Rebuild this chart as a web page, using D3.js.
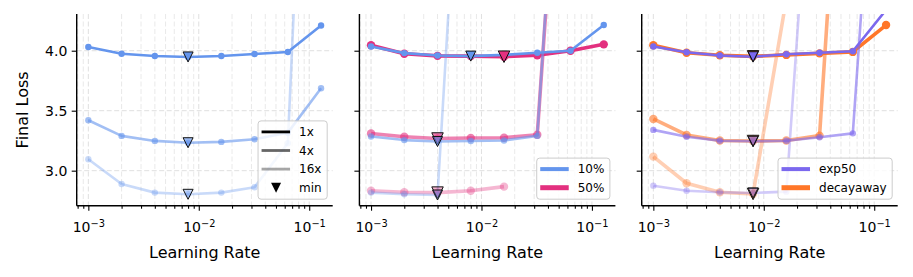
<!DOCTYPE html>
<html>
<head>
<meta charset="utf-8">
<script src="https://cdn.jsdelivr.net/npm/d3@7"></script>
<style>
  body { margin: 0; background: #fff; }
  svg { display: block; }
  svg text { font-family: "DejaVu Sans", sans-serif; }
</style>
</head>
<body>
<svg id="chart" width="913" height="277"></svg>
<script>
// ---- data ----
const learningRates = [0.001, 0.002, 0.004, 0.008, 0.016, 0.032, 0.064, 0.128];
const durations = ["1x", "4x", "16x"];
const xTickExponents = [-3, -2, -1];
const yTicks = [3.0, 3.5, 4.0];

// panel 1 (single schedule, three run lengths)
const base1x  = [4.031, 3.975, 3.956, 3.948, 3.956, 3.972, 3.989, 4.210];
const base4x  = [3.420, 3.290, 3.248, 3.233, 3.240, 3.262, 3.317, 3.687];
const base16x = [3.095, 2.889, 2.817, 2.803, 2.817, 2.862, 3.228, 9.400];

// panel 2 (10% vs 50%)
const pct10_1x  = [4.035, 3.980, 3.960, 3.955, 3.965, 3.983, 4.000, 4.214];
const pct10_4x  = [3.285, 3.255, 3.243, 3.247, 3.252, 3.290, 7.500];
const pct10_16x = [2.817, 2.803, 2.797, 7.440];
const pct50_1x  = [4.045, 3.975, 3.957, 3.955, 3.950, 3.962, 4.000, 4.053];
const pct50_4x  = [3.310, 3.283, 3.268, 3.272, 3.275, 3.300, 7.300];
const pct50_16x = [2.833, 2.820, 2.817, 2.833, 2.867];

// panel 3 (exp50 vs decayaway)
const exp50_1x  = [4.035, 3.987, 3.960, 3.950, 3.970, 3.983, 3.995, 4.340];
const exp50_4x  = [3.340, 3.283, 3.250, 3.245, 3.250, 3.278, 3.311, 7.300];
const exp50_16x = [2.875, 2.833, 2.820, 2.814, 2.825, 6.800];
const decay_1x  = [4.045, 3.983, 3.962, 3.953, 3.965, 3.978, 3.990, 4.214];
const decay_4x  = [3.431, 3.298, 3.252, 3.247, 3.252, 3.292, 7.550];
const decay_16x = [3.117, 2.895, 2.820, 2.806, 4.430];

// ---- styling ----
const blue = "#6495ed", pink = "#e3307f", purple = "#7b68ee", orange = "#ff7628";
const alphas = [1, 0.6, 0.35];
const thin = { lw: 2.6, r: 3.2, tri: 10, legendLw: 4 };
const thick = { lw: 3.6, r: 4.2, tri: 11.5, legendLw: 5 };

const panels = [
  { legend: "durations",
    series: [{ label: null, color: blue, runs: [base1x, base4x, base16x], style: thin }] },
  { legend: "series",
    series: [{ label: "10%", color: blue, runs: [pct10_1x, pct10_4x, pct10_16x], style: thin },
             { label: "50%", color: pink, runs: [pct50_1x, pct50_4x, pct50_16x], style: thick }] },
  { legend: "series",
    series: [{ label: "exp50", color: purple, runs: [exp50_1x, exp50_4x, exp50_16x], style: thin },
             { label: "decayaway", color: orange, runs: [decay_1x, decay_4x, decay_16x], style: thick }] }
];

// ---- layout ----
const lefts = [76.7, 359.4, 641.7];
const plotW = 256, plotTop = 14, plotBottom = 205.7, plotH = plotBottom - plotTop;

const logLo = Math.log10(learningRates[0]), logHi = Math.log10(learningRates[learningRates.length - 1]);
const pad = (logHi - logLo) * 0.05;
const x = d3.scaleLog().domain([10 ** (logLo - pad), 10 ** (logHi + pad)]).range([0, plotW]);
const y = d3.scaleLinear().domain([2.708, 4.306]).range([plotH, 0]);

const majorX = xTickExponents.map(e => 10 ** e);
const minorX = x.ticks().filter(v => !majorX.some(m => Math.abs(m - v) / m < 1e-6));

const svg = d3.select("#chart");
svg.append("rect").attr("width", 913).attr("height", 277).attr("fill", "#fff");

const triangle = s => `M${-s / 2},${-s / 2}L${s / 2},${-s / 2}L0,${s / 2}Z`;

panels.forEach((panel, pi) => {
  const g = svg.append("g").attr("transform", `translate(${lefts[pi]},${plotTop})`);

  g.append("clipPath").attr("id", `clip${pi}`)
    .append("rect").attr("width", plotW).attr("height", plotH);

  // grid
  const grid = g.append("g").attr("fill", "none").attr("stroke-width", 0.9).attr("stroke-dasharray", "5,2.5");
  grid.selectAll(".gm").data(minorX).join("line")
    .attr("x1", d => x(d)).attr("x2", d => x(d)).attr("y1", 0).attr("y2", plotH)
    .attr("stroke", "#e6e6e6");
  grid.selectAll(".gx").data(majorX).join("line")
    .attr("x1", d => x(d)).attr("x2", d => x(d)).attr("y1", 0).attr("y2", plotH)
    .attr("stroke", "#dcdcdc");
  grid.selectAll(".gy").data(yTicks).join("line")
    .attr("x1", 0).attr("x2", plotW).attr("y1", d => y(d)).attr("y2", d => y(d))
    .attr("stroke", "#dcdcdc");

  // axes
  const xMinor = g.append("g").attr("transform", `translate(0,${plotH})`)
    .call(d3.axisBottom(x).tickValues(minorX).tickSize(3).tickFormat(""));
  const xMajor = g.append("g").attr("transform", `translate(0,${plotH})`)
    .call(d3.axisBottom(x).tickValues(majorX).tickSize(5).tickPadding(6).tickFormat(""));
  [xMinor, xMajor].forEach(a => {
    a.select(".domain").remove();
    a.selectAll("line").attr("stroke", "#000").attr("stroke-width", 1.1);
  });
  xMajor.attr("font-family", null).attr("font-size", null);
  xMajor.selectAll(".tick text")
    .style("font-size", "14px").attr("fill", "#000").attr("y", 0).attr("dy", 0)
    .attr("transform", "translate(0,26.6)")
    .each(function(d) {
      const t = d3.select(this);
      t.append("tspan").text("10");
      t.append("tspan").style("font-size", "9.8px").attr("dy", -5.6)
        .text("\u2212" + Math.abs(Math.round(Math.log10(d))));
    });

  const yAxis = g.append("g")
    .call(d3.axisLeft(y).tickValues(yTicks).tickSize(5).tickPadding(4.4)
      .tickFormat(pi === 0 ? d3.format(".1f") : ""));
  yAxis.attr("font-family", null).attr("font-size", null);
  yAxis.select(".domain").remove();
  yAxis.selectAll("line").attr("stroke", "#000").attr("stroke-width", 1.1);
  yAxis.selectAll("text").style("font-size", "14px").attr("fill", "#000").attr("dy", "0.35em");

  // data
  const plot = g.append("g").attr("clip-path", `url(#clip${pi})`);
  const line = d3.line().x(d => x(d.lr)).y(d => y(d.v));
  const order = panel.series.slice().reverse();

  order.forEach(s => {
    s.runs.forEach((run, di) => {
      const pts = run.map((v, i) => ({ lr: learningRates[i], v }));
      const a = alphas[di];
      plot.append("path").datum(pts)
        .attr("d", line).attr("fill", "none")
        .attr("stroke", s.color).attr("stroke-opacity", a)
        .attr("stroke-width", s.style.lw).attr("stroke-linejoin", "round");
      plot.selectAll(null).data(pts).join("circle")
        .attr("cx", d => x(d.lr)).attr("cy", d => y(d.v)).attr("r", s.style.r)
        .attr("fill", s.color).attr("fill-opacity", a);
    });
  });

  order.forEach(s => {
    s.runs.forEach((run, di) => {
      const i = d3.minIndex(run);
      plot.append("path")
        .attr("transform", `translate(${x(learningRates[i])},${y(run[i])})`)
        .attr("d", triangle(s.style.tri))
        .attr("fill", s.color).attr("fill-opacity", alphas[di])
        .attr("stroke", "#111").attr("stroke-width", 1);
    });
  });

  // spines
  g.append("line").attr("x1", 0).attr("x2", 0).attr("y1", 0).attr("y2", plotH)
    .attr("stroke", "#000").attr("stroke-width", 1.4);
  g.append("line").attr("x1", 0).attr("x2", plotW).attr("y1", plotH).attr("y2", plotH)
    .attr("stroke", "#000").attr("stroke-width", 1.4);

  // x label
  g.append("text").attr("x", plotW / 2).attr("y", 258.3 - plotTop)
    .attr("text-anchor", "middle").style("font-size", "16px").text("Learning Rate");

  // legend
  const entries = panel.legend === "durations"
    ? durations.map((d, i) => ({ label: d, kind: "line", color: "#000", alpha: alphas[i], lw: 2.8 }))
        .concat([{ label: "min", kind: "tri" }])
    : panel.series.map(s => ({ label: s.label, kind: "line", color: s.color, alpha: 1, lw: s.style.legendLw }));

  const rowGap = 18.6, padTop = 11, padBottom = 11.5, textX = 41;
  const boxH = padTop + (entries.length - 1) * rowGap + padBottom;
  const leg = g.append("g");
  const box = leg.append("rect")
    .attr("rx", 3).attr("fill", "#fff").attr("fill-opacity", 0.8)
    .attr("stroke", "#cccccc").attr("stroke-width", 1);
  let maxLen = 0;
  entries.forEach((e, i) => {
    const ry = padTop + i * rowGap;
    if (e.kind === "line") {
      leg.append("line").attr("x1", 3.5).attr("x2", 32).attr("y1", ry).attr("y2", ry)
        .attr("stroke", e.color).attr("stroke-opacity", e.alpha).attr("stroke-width", e.lw);
    } else {
      leg.append("path").attr("transform", `translate(18,${ry})`).attr("d", triangle(10)).attr("fill", "#000");
    }
    const t = leg.append("text").attr("x", textX).attr("y", ry).attr("dy", "0.35em")
      .style("font-size", "12px").text(e.label);
    maxLen = Math.max(maxLen, t.node().getComputedTextLength());
  });
  const boxW = textX + maxLen + 5.5;
  box.attr("width", boxW).attr("height", boxH);
  leg.attr("transform", `translate(${plotW - 5.5 - boxW},${plotH - 6.5 - boxH})`);
});

// shared y label
svg.append("text").attr("transform", `translate(28.3,${plotTop + plotH / 2}) rotate(-90)`)
  .attr("text-anchor", "middle").style("font-size", "16px").text("Final Loss");
</script>
</body>
</html>
